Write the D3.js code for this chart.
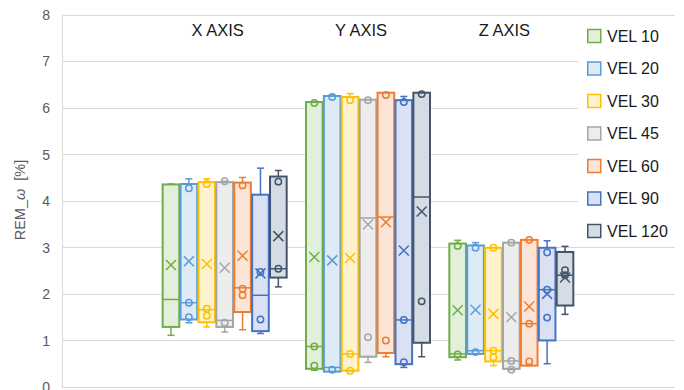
<!DOCTYPE html>
<html>
<head>
<meta charset="utf-8">
<script src="https://cdn.jsdelivr.net/npm/d3@7/dist/d3.min.js"></script>
<style>
  html, body { margin: 0; padding: 0; background: #fff; }
  svg { display: block; }
</style>
</head>
<body>
<svg id="chart" width="684" height="390"></svg>
<script>
// Axis groups (categories) and velocity series
const groups = ["X AXIS", "Y AXIS", "Z AXIS"];
const series = ["VEL 10", "VEL 20", "VEL 30", "VEL 45", "VEL 60", "VEL 90", "VEL 120"];
const yTicks = [0, 1, 2, 3, 4, 5, 6, 7, 8];

// Box statistics, one row per series, one column per group [X, Y, Z]
const minVals = [
  [1.11, 0.36, 0.58], [1.38, 0.33, 0.71], [1.29, 0.35, 0.46], [1.18, 0.53, 0.37],
  [1.23, 0.65, 0.46], [1.15, 0.42, 0.50], [2.15, 0.65, 1.56]
];
const q1Vals = [
  [1.29, 0.39, 0.64], [1.45, 0.33, 0.71], [1.39, 0.35, 0.55], [1.29, 0.65, 0.39],
  [1.61, 0.73, 0.46], [1.20, 0.49, 1.00], [2.35, 0.95, 1.75]
];
const medianVals = [
  [1.88, 0.87, 0.71], [1.81, 0.42, 0.78], [1.66, 0.71, 0.78], [1.43, 3.63, 0.56],
  [2.13, 3.65, 1.36], [1.97, 1.44, 2.09], [2.54, 4.08, 2.40]
];
const q3Vals = [
  [4.35, 6.12, 3.08], [4.36, 6.25, 3.04], [4.40, 6.23, 2.99], [4.40, 6.17, 3.10],
  [4.39, 6.32, 3.16], [4.13, 6.16, 2.99], [4.52, 6.32, 2.90]
];
const maxVals = [
  [4.36, 6.12, 3.15], [4.47, 6.27, 3.10], [4.47, 6.30, 2.99], [4.42, 6.17, 3.10],
  [4.50, 6.32, 3.16], [4.70, 6.24, 3.14], [4.65, 6.32, 3.02]
];
const meanVals = [
  [2.62, 2.79, 1.65], [2.70, 2.72, 1.66], [2.64, 2.77, 1.57], [2.56, 3.49, 1.50],
  [2.82, 3.54, 1.73], [2.44, 2.93, 2.00], [3.24, 3.77, 2.35]
];
// Individual points drawn as circles
const pointVals = [
  [[], [6.10, 0.87, 0.46], [3.03, 0.70]],
  [[4.27, 1.81, 1.50], [6.23, 0.37], [2.99, 0.75]],
  [[4.36, 1.68, 1.53], [6.16, 0.71, 0.35], [2.99, 0.78, 0.64]],
  [[4.42, 1.38], [6.16, 1.07], [3.10, 0.56, 0.37]],
  [[4.33, 2.11, 1.97], [6.27, 1.00], [3.16, 1.36, 0.55]],
  [[2.47, 1.45], [6.12, 1.44, 0.53], [2.89, 2.09, 1.49]],
  [[4.41, 2.54], [6.29, 1.84], [2.51, 2.40]]
];

const strokeColors = ["#70AD47", "#5B9BD5", "#FFC000", "#A5A5A5", "#ED7D31", "#4472C4", "#44546A"];
const fillColors   = ["#E2EFDA", "#DDEBF7", "#FFF2CC", "#EDEDED", "#FCE4D6", "#D9E1F2", "#D6DCE4"];

const svg = d3.select("#chart");
const plot = { left: 62, right: 675, top: 14.5, bottom: 387 };

const y = d3.scaleLinear().domain([0, 8]).range([plot.bottom, plot.top]);
const xGroup = d3.scaleBand().domain(groups).range([153, 583]).padding(0);
const xSeries = d3.scaleBand().domain(series).range([0, xGroup.bandwidth()])
  .paddingInner(0.07).paddingOuter(0.54);

// Gridlines
svg.append("g").selectAll("line").data(yTicks).join("line")
  .attr("x1", plot.left).attr("x2", plot.right)
  .attr("y1", d => Math.round(y(d)) + 0.5).attr("y2", d => Math.round(y(d)) + 0.5)
  .attr("stroke", "#D9D9D9").attr("stroke-width", 1);

// Vertical axis line
svg.append("line")
  .attr("x1", plot.left + 0.5).attr("x2", plot.left + 0.5)
  .attr("y1", y(8)).attr("y2", y(0))
  .attr("stroke", "#D9D9D9").attr("stroke-width", 1);

// Y axis tick labels
const yAxis = d3.axisLeft(y).tickValues(yTicks).tickSize(0).tickPadding(0).tickFormat(d3.format("d"));
const yAxisG = svg.append("g").attr("transform", `translate(50,0)`).call(yAxis);
yAxisG.select(".domain").remove();
yAxisG.selectAll("text")
  .attr("font-family", "Liberation Sans, Arial, sans-serif")
  .attr("font-size", 14).attr("fill", "#595959").attr("dy", "0.35em");

// Y axis title
const yTitle = svg.append("text")
  .attr("transform", `translate(25,200) rotate(-90)`)
  .attr("text-anchor", "middle")
  .attr("font-family", "Liberation Sans, Arial, sans-serif")
  .attr("font-size", 14.5).attr("fill", "#595959")
  .attr("xml:space", "preserve");
yTitle.append("tspan").text("REM_");
yTitle.append("tspan").attr("font-style", "italic").text("ω");
yTitle.append("tspan").text("  [%]");

// Boxes
const boxes = [];
series.forEach((s, si) => {
  groups.forEach((g, gi) => {
    boxes.push({
      si, gi,
      x: xGroup(g) + xSeries(s),
      w: xSeries.bandwidth(),
      min: minVals[si][gi], q1: q1Vals[si][gi], med: medianVals[si][gi],
      q3: q3Vals[si][gi], max: maxVals[si][gi], mean: meanVals[si][gi],
      pts: pointVals[si][gi]
    });
  });
});

const boxG = svg.append("g").selectAll("g").data(boxes).join("g");

boxG.each(function(d) {
  const g = d3.select(this);
  const c = strokeColors[d.si];
  const cx = d.x + d.w / 2;
  const cap = 3.5;
  // whiskers
  g.append("line").attr("x1", cx).attr("x2", cx).attr("y1", y(d.q3)).attr("y2", y(d.max))
    .attr("stroke", c).attr("stroke-width", 1.5);
  g.append("line").attr("x1", cx - cap).attr("x2", cx + cap).attr("y1", y(d.max)).attr("y2", y(d.max))
    .attr("stroke", c).attr("stroke-width", 1.5);
  g.append("line").attr("x1", cx).attr("x2", cx).attr("y1", y(d.q1)).attr("y2", y(d.min))
    .attr("stroke", c).attr("stroke-width", 1.5);
  g.append("line").attr("x1", cx - cap).attr("x2", cx + cap).attr("y1", y(d.min)).attr("y2", y(d.min))
    .attr("stroke", c).attr("stroke-width", 1.5);
  // box
  g.append("rect")
    .attr("x", d.x).attr("width", d.w)
    .attr("y", y(d.q3)).attr("height", y(d.q1) - y(d.q3))
    .attr("fill", fillColors[d.si]).attr("stroke", c).attr("stroke-width", 2);
  // median
  g.append("line").attr("x1", d.x).attr("x2", d.x + d.w).attr("y1", y(d.med)).attr("y2", y(d.med))
    .attr("stroke", c).attr("stroke-width", 1.5);
  // mean marker
  const m = 5, my = y(d.mean);
  g.append("path")
    .attr("d", `M${cx - m},${my - m}L${cx + m},${my + m}M${cx - m},${my + m}L${cx + m},${my - m}`)
    .attr("stroke", c).attr("stroke-width", 1.5).attr("fill", "none");
  // points
  g.selectAll("circle").data(d.pts).join("circle")
    .attr("cx", cx).attr("cy", v => y(v)).attr("r", 3.2)
    .attr("fill", "none").attr("stroke", c).attr("stroke-width", 1.5);
});

// Group titles
svg.append("g").selectAll("text").data(groups).join("text")
  .attr("x", d => xGroup(d) + xGroup.bandwidth() / 2 - 7)
  .attr("y", 35.5)
  .attr("text-anchor", "middle")
  .attr("font-family", "Liberation Sans, Arial, sans-serif")
  .attr("font-size", 16.5).attr("fill", "#1a1a1a")
  .text(d => d);

// Legend
svg.append("rect").attr("x", 578).attr("y", 22).attr("width", 106).attr("height", 219).attr("fill", "#fff");
const legend = svg.append("g").selectAll("g").data(series).join("g")
  .attr("transform", (d, i) => `translate(587, ${36 + i * 32.5})`);
legend.append("rect")
  .attr("x", 0.75).attr("y", -6.5).attr("width", 13).attr("height", 13)
  .attr("fill", (d, i) => fillColors[i]).attr("stroke", (d, i) => strokeColors[i]).attr("stroke-width", 1.5);
legend.append("text")
  .attr("x", 20).attr("y", 0).attr("dy", "0.36em")
  .attr("font-family", "Liberation Sans, Arial, sans-serif")
  .attr("font-size", 16).attr("fill", "#1a1a1a")
  .text(d => d);
</script>
</body>
</html>
